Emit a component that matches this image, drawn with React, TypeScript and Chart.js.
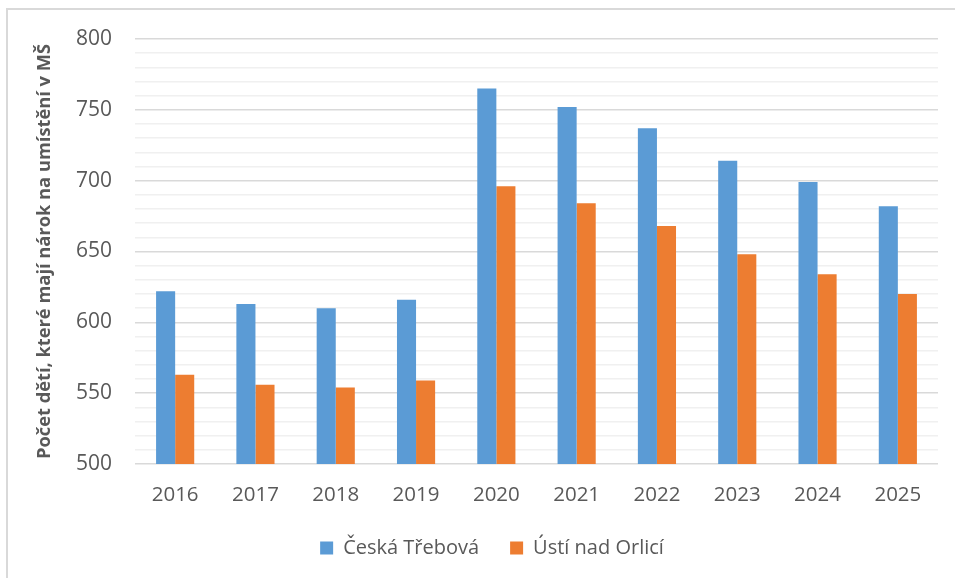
import React, { useEffect, useRef } from "react";
import { Chart, registerables } from "chart.js";

Chart.register(...registerables);

const years = ["2016", "2017", "2018", "2019", "2020", "2021", "2022", "2023", "2024", "2025"];
const ceskaTrebova = [622, 613, 610, 616, 765, 752, 737, 714, 699, 682];
const ustiNadOrlici = [563, 556, 554, 559, 696, 684, 668, 648, 634, 620];
const seriesNames = ["Česká Třebová", "Ústí nad Orlicí"];
const yTitle = "Počet dětí, které mají nárok na umístění v MŠ";
const yMin = 500;
const yMax = 800;

const FONT = "'Open Sans', 'DejaVu Sans', sans-serif";
const TEXT = "#595959";

const legendShift = {
  id: "legendShift",
  afterLayout(chart: any) {
    if (chart.legend) {
      chart.legend.left += 23;
      chart.legend.right += 23;
      if (chart.legend.adjustHitBoxes) chart.legend.adjustHitBoxes();
    }
  },
};

export default function App() {
  const ref = useRef<HTMLCanvasElement | null>(null);

  useEffect(() => {
    if (!ref.current) return;
    const chart = new Chart(ref.current, {
      type: "bar",
      data: {
        labels: years,
        datasets: [
          {
            label: seriesNames[0],
            data: ceskaTrebova,
            backgroundColor: "#5B9BD5",
            categoryPercentage: 0.475,
            barPercentage: 1,
          },
          {
            label: seriesNames[1],
            data: ustiNadOrlici,
            backgroundColor: "#ED7D31",
            categoryPercentage: 0.475,
            barPercentage: 1,
          },
        ],
      },
      plugins: [legendShift],
      options: {
        animation: false,
        responsive: false,
        maintainAspectRatio: false,
        layout: { padding: { top: 39, right: 17, left: 0, bottom: 10 } },
        plugins: {
          tooltip: { enabled: false },
          legend: {
            position: "bottom",
            labels: {
              boxWidth: 13,
              boxHeight: 13,
              padding: 31,
              color: TEXT,
              font: { family: FONT, size: 20 },
            },
          },
        },
        scales: {
          x: {
            grid: { display: false, drawTicks: false },
            border: { display: false },
            ticks: {
              color: TEXT,
              font: { family: FONT, size: 20.5 },
              padding: 19,
            },
            afterFit: (scale: any) => {
              scale.height = 43;
            },
          },
          y: {
            min: yMin,
            max: yMax,
            border: { display: false },
            grid: {
              drawTicks: false,
              color: (ctx: any) =>
                ctx.tick && ctx.tick.value % 50 === 0 ? "#d9d9d9" : "#f0f0f0",
              lineWidth: 1.5,
            },
            ticks: {
              stepSize: 10,
              autoSkip: false,
              color: TEXT,
              font: { family: FONT, size: 21 },
              padding: 23,
              callback: (v: any) => (Number(v) % 50 === 0 ? String(v) : ""),
            },
            title: {
              display: true,
              text: yTitle,
              color: TEXT,
              font: { family: FONT, size: 18.3, weight: "bold" },
              padding: { top: 34, bottom: 0 },
            },
            afterFit: (scale: any) => {
              scale.width = 135;
            },
          },
        },
      },
    });
    return () => chart.destroy();
  }, []);

  return (
    <div style={{ position: "fixed", left: 0, top: 0, width: 955, height: 578, overflow: "hidden", background: "#fff" }}>
      <div
        style={{
          position: "absolute",
          left: 6,
          top: 8,
          width: 1000,
          height: 700,
          border: "2px solid #d9d9d9",
          boxSizing: "border-box",
        }}
      />
      <canvas ref={ref} width={955} height={578} style={{ position: "absolute", left: 0, top: 0 }} />
    </div>
  );
}
